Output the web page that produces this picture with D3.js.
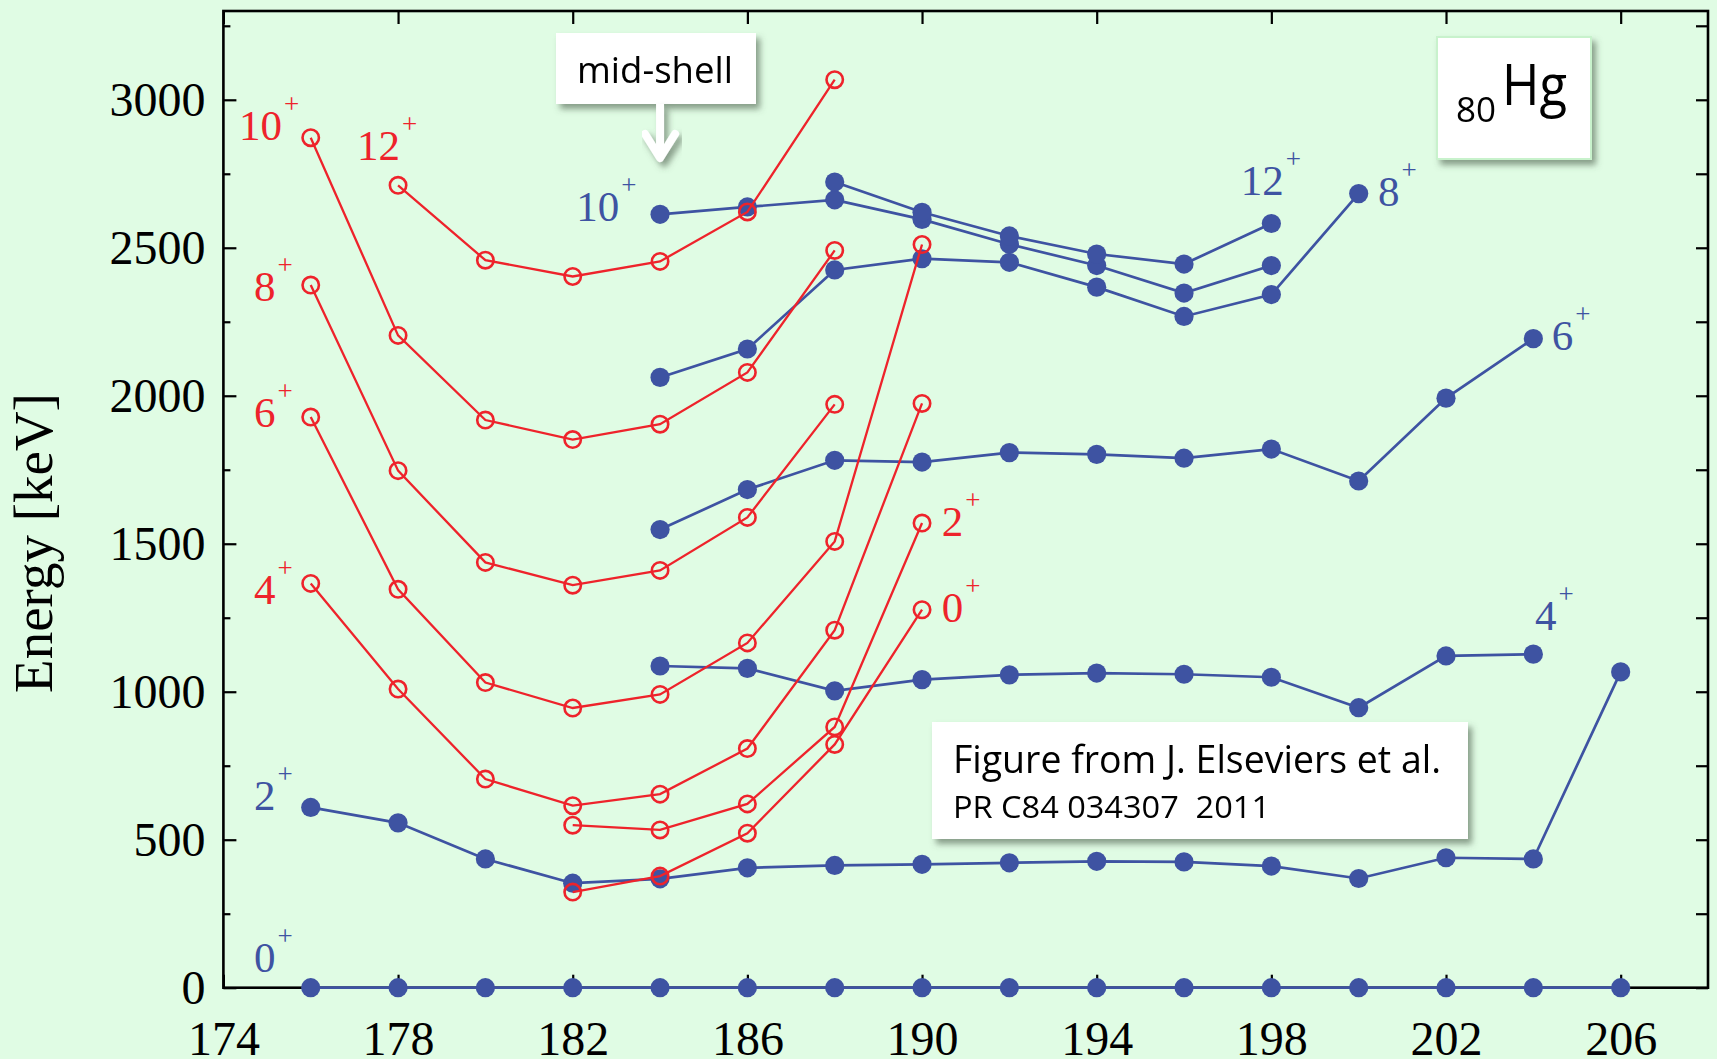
<!DOCTYPE html>
<html>
<head>
<meta charset="utf-8">
<script src="https://cdn.jsdelivr.net/npm/d3@7"></script>
<style>
  html, body { margin: 0; padding: 0; background: #e0fce4; }
  svg { display: block; }
</style>
</head>
<body>
<svg id="grafico" width="1717" height="1059"></svg>
<script>
// niveles del mercurio (Z=80) segun el numero masico, leidos a ojo de la figura.
// rojo = banda intrusa (circulos abiertos), azul = banda normal (puntos llenos)

var rojo0 = [[182, 323], [184, 377], [186, 522], [188, 822], [190, 1277]];
var rojo2 = [[182, 549], [184, 533], [186, 621], [188, 881], [190, 1570]];
var rojo4 = [[176, 1366], [178, 1009], [180, 705], [182, 615], [184, 654], [186, 808], [188, 1208], [190, 1974]];
var rojo6 = [[176, 1928], [178, 1346], [180, 1031], [182, 945], [184, 991], [186, 1165], [188, 1508], [190, 2511]];
var rojo8 = [[176, 2374], [178, 1747], [180, 1437], [182, 1360], [184, 1410], [186, 1589], [188, 1971]];
var rojo10 = [[176, 2872], [178, 2204], [180, 1918], [182, 1852], [184, 1904], [186, 2079], [188, 2491]];
var rojo12 = [[178, 2711], [180, 2458], [182, 2403], [184, 2454], [186, 2621], [188, 3068]];

var azul0 = [[176, 0], [178, 0], [180, 0], [182, 0], [184, 0], [186, 0], [188, 0], [190, 0],
             [192, 0], [194, 0], [196, 0], [198, 0], [200, 0], [202, 0], [204, 0], [206, 0]];
var azul2 = [[176, 609], [178, 557], [180, 435], [182, 353], [184, 368], [186, 405], [188, 413], [190, 417],
             [192, 422], [194, 427], [196, 425], [198, 411], [200, 369], [202, 439], [204, 435], [206, 1067]];
var azul4 = [[184, 1087], [186, 1079], [188, 1003], [190, 1041], [192, 1057], [194, 1063], [196, 1059],
             [198, 1049], [200, 946], [202, 1121], [204, 1127]];
var azul6 = [[184, 1548], [186, 1683], [188, 1782], [190, 1776], [192, 1808], [194, 1802], [196, 1789],
             [198, 1820], [200, 1712], [202, 1992], [204, 2193]];
var azul8 = [[184, 2062], [186, 2158], [188, 2425], [190, 2463], [192, 2451], [194, 2367], [196, 2268],
             [198, 2342], [200, 2683]];
var azul10 = [[184, 2613], [186, 2638], [188, 2662], [190, 2596], [192, 2512], [194, 2440], [196, 2347], [198, 2440]];
var azul12 = [[188, 2722], [190, 2620], [192, 2540], [194, 2479], [196, 2445], [198, 2582]];

var ticksX = [174, 178, 182, 186, 190, 194, 198, 202, 206];
var ticksY = [0, 500, 1000, 1500, 2000, 2500, 3000];
var ticksYmenor = [250, 750, 1250, 1750, 2250, 2750, 3250];

// etiquetas de espin, ancladas en coordenadas de datos (a = masa, e = energia, esquina de la linea base)
var etiquetas = [
  { n: "10", col: "rojo", a: 174.36, e: 2863 },
  { n: "12", col: "rojo", a: 177.06, e: 2795 },
  { n: "8", col: "rojo", a: 174.7, e: 2319 },
  { n: "6", col: "rojo", a: 174.7, e: 1893 },
  { n: "4", col: "rojo", a: 174.7, e: 1296 },
  { n: "2", col: "rojo", a: 190.45, e: 1525 },
  { n: "0", col: "rojo", a: 190.45, e: 1235 },
  { n: "2", col: "azul", a: 174.7, e: 600 },
  { n: "0", col: "azul", a: 174.7, e: 53 },
  { n: "10", col: "azul", a: 182.08, e: 2589 },
  { n: "12", col: "azul", a: 197.3, e: 2677 },
  { n: "8", col: "azul", a: 200.44, e: 2640 },
  { n: "6", col: "azul", a: 204.42, e: 2153 },
  { n: "4", col: "azul", a: 204.04, e: 1208 }
];

var ROJO = "#ee232b";
var AZUL = "#3e53a2";
var colores = { rojo: ROJO, azul: AZUL };

var svg = d3.select("#grafico");

var x = d3.scaleLinear().domain([174, 208]).range([223.4, 1708]);
var y = d3.scaleLinear().domain([0, 3300]).range([987.7, 11]);

// sombrita de las cajas blancas
var defs = svg.append("defs");
defs.append("filter")
  .attr("id", "sombra")
  .attr("x", "-10%").attr("y", "-10%")
  .attr("width", "130%").attr("height", "140%")
  .append("feDropShadow")
  .attr("dx", 4).attr("dy", 5)
  .attr("stdDeviation", 3)
  .attr("flood-color", "#4c5e4c")
  .attr("flood-opacity", 0.6);

// ejes: ticks hacia adentro en los cuatro lados
function estiloEje(g) {
  g.select(".domain").remove();
  g.selectAll(".tick line").attr("stroke", "#000").attr("stroke-width", 2.2);
  g.selectAll(".tick text")
    .attr("fill", "#000")
    .style("font-family", "'Liberation Serif', 'Times New Roman', serif")
    .style("font-size", "48px");
}

svg.append("g")
  .attr("transform", "translate(" + x(174) + ",0)")
  .call(d3.axisLeft(y).tickValues(ticksY).tickSize(-13).tickPadding(18).tickFormat(d3.format("d")))
  .call(estiloEje);

svg.append("g")
  .attr("transform", "translate(" + x(174) + ",0)")
  .call(d3.axisLeft(y).tickValues(ticksYmenor).tickSize(-7).tickFormat(""))
  .call(estiloEje);

svg.append("g")
  .attr("transform", "translate(" + x(208) + ",0)")
  .call(d3.axisRight(y).tickValues(ticksY.concat(ticksYmenor)).tickSize(-12).tickFormat(""))
  .call(estiloEje);

svg.append("g")
  .attr("transform", "translate(0," + y(0) + ")")
  .call(d3.axisBottom(x).tickValues(ticksX).tickSize(-13).tickPadding(33).tickFormat(d3.format("d")))
  .call(estiloEje);

svg.append("g")
  .attr("transform", "translate(0," + y(3300) + ")")
  .call(d3.axisTop(x).tickValues(ticksX).tickSize(-13).tickFormat(""))
  .call(estiloEje);

// marco
svg.append("rect")
  .attr("x", x(174)).attr("y", y(3300))
  .attr("width", x(208) - x(174)).attr("height", y(0) - y(3300))
  .attr("fill", "none").attr("stroke", "#000").attr("stroke-width", 2.6);

// titulo del eje y
svg.append("text")
  .attr("transform", "translate(52," + 543 + ") rotate(-90)")
  .attr("text-anchor", "middle")
  .style("font-family", "'Liberation Serif', 'Times New Roman', serif")
  .style("font-size", "55px")
  .attr("fill", "#000")
  .text("Energy [keV]");

var linea = d3.line()
  .x(function (d) { return x(d[0]); })
  .y(function (d) { return y(d[1]); });

var seriesAzules = [azul0, azul2, azul4, azul6, azul8, azul10, azul12];
var seriesRojas = [rojo0, rojo2, rojo4, rojo6, rojo8, rojo10, rojo12];

// primero la banda azul, la roja va encima
var capaAzul = svg.append("g");
seriesAzules.forEach(function (s) {
  capaAzul.append("path")
    .attr("d", linea(s))
    .attr("fill", "none")
    .attr("stroke", AZUL)
    .attr("stroke-width", 2.7);
});
seriesAzules.forEach(function (s) {
  capaAzul.selectAll(null).data(s).enter().append("circle")
    .attr("cx", function (d) { return x(d[0]); })
    .attr("cy", function (d) { return y(d[1]); })
    .attr("r", 9.6)
    .attr("fill", AZUL);
});

var capaRoja = svg.append("g");
seriesRojas.forEach(function (s) {
  capaRoja.append("path")
    .attr("d", linea(s))
    .attr("fill", "none")
    .attr("stroke", ROJO)
    .attr("stroke-width", 2.3);
  capaRoja.selectAll(null).data(s).enter().append("circle")
    .attr("cx", function (d) { return x(d[0]); })
    .attr("cy", function (d) { return y(d[1]); })
    .attr("r", 8.2)
    .attr("fill", "none")
    .attr("stroke", ROJO)
    .attr("stroke-width", 2.6);
});

// etiquetas J^+
var capaEt = svg.append("g")
  .style("font-family", "'Liberation Serif', 'Times New Roman', serif");
etiquetas.forEach(function (et) {
  var t = capaEt.append("text")
    .attr("x", x(et.a)).attr("y", y(et.e))
    .attr("fill", colores[et.col])
    .style("font-size", "43px");
  t.append("tspan").text(et.n);
  t.append("tspan")
    .attr("dx", 2).attr("dy", -27)
    .style("font-size", "27px")
    .text("+");
});

// caja "mid-shell" con la flecha apuntando a A=184
var caja1 = svg.append("g").attr("filter", "url(#sombra)");
caja1.append("rect")
  .attr("x", 556).attr("y", 33).attr("width", 200).attr("height", 71)
  .attr("fill", "#fff");
caja1.append("text")
  .attr("x", 577).attr("y", 83)
  .attr("textLength", 156).attr("lengthAdjust", "spacingAndGlyphs")
  .style("font-family", "'Open Sans', 'Noto Sans', sans-serif")
  .style("font-size", "37px")
  .attr("fill", "#000")
  .text("mid-shell");

var flecha = svg.append("g").attr("filter", "url(#sombra)");
var xf = x(184);
flecha.append("line")
  .attr("x1", xf).attr("x2", xf).attr("y1", 104).attr("y2", 156)
  .attr("stroke", "#fff").attr("stroke-width", 8);
flecha.append("path")
  .attr("d", "M" + (xf - 15) + ",134 L" + xf + ",158 L" + (xf + 15) + ",134")
  .attr("fill", "none").attr("stroke", "#fff")
  .attr("stroke-width", 8).attr("stroke-linecap", "round").attr("stroke-linejoin", "round");

// caja con el simbolo del elemento
var caja2 = svg.append("g").attr("filter", "url(#sombra)");
caja2.append("rect")
  .attr("x", 1437).attr("y", 37).attr("width", 154).attr("height", 122)
  .attr("fill", "#fff").attr("stroke", "#c8f2cc").attr("stroke-width", 2);
caja2.append("text")
  .attr("x", 1456).attr("y", 122)
  .style("font-family", "'Open Sans', 'Noto Sans', sans-serif")
  .style("font-size", "35px")
  .attr("fill", "#000")
  .text("80");
caja2.append("text")
  .attr("x", 1502).attr("y", 105)
  .attr("textLength", 65).attr("lengthAdjust", "spacingAndGlyphs")
  .style("font-family", "'Open Sans', 'Noto Sans', sans-serif")
  .style("font-size", "56px")
  .attr("fill", "#000")
  .text("Hg");

// caja de la referencia
var caja3 = svg.append("g").attr("filter", "url(#sombra)");
caja3.append("rect")
  .attr("x", 932).attr("y", 722).attr("width", 536).attr("height", 117)
  .attr("fill", "#fff");
caja3.append("text")
  .attr("x", 953).attr("y", 773)
  .attr("textLength", 488).attr("lengthAdjust", "spacingAndGlyphs")
  .style("font-family", "'Open Sans', 'Noto Sans', sans-serif")
  .style("font-size", "38px")
  .attr("fill", "#000")
  .text("Figure from J. Elseviers et al.");
caja3.append("text")
  .attr("x", 953).attr("y", 818)
  .attr("textLength", 317).attr("lengthAdjust", "spacingAndGlyphs")
  .style("font-family", "'Open Sans', 'Noto Sans', sans-serif")
  .style("font-size", "31px")
  .style("white-space", "pre")
  .attr("fill", "#000")
  .text("PR C84 034307  2011");
</script>
</body>
</html>
